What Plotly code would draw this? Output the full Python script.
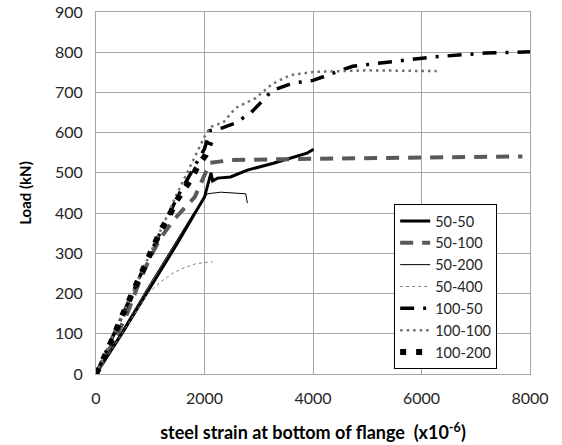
import plotly.graph_objects as go

# ---- data (strain x10^-6, load kN) ----
s50_50_x = [0, 500, 1000, 1500, 2000, 2120, 2150, 2240, 2480, 2790, 3270, 3890, 4010]
s50_50_y = [0, 105, 215, 325, 440, 500, 480, 487, 490, 507, 524, 549, 559]

s50_100_x = [0, 120, 360, 580, 790, 1000, 1190, 1430, 1740, 1820, 2100, 2500, 4000, 6000, 7860]
s50_100_y = [0, 30, 90, 152, 226, 291, 338, 383, 428, 440, 525, 532, 535, 537, 541]

s50_200_x = [0, 1000, 1800, 2050, 2300, 2600, 2760, 2790]
s50_200_y = [0, 225, 400, 448, 452, 450, 448, 425]

s50_400_x = [0, 500, 950, 1200, 1420, 1640, 1840, 2000, 2150]
s50_400_y = [0, 105, 200, 230, 251, 265, 274, 277, 279]

s100_50_x = [0, 500, 1000, 1500, 1800, 2000, 2100, 2330, 2570, 2860, 3250, 3620, 4000,
             4380, 4730, 5110, 5520, 6200, 6680, 7180, 8000]
s100_50_y = [0, 150, 300, 440, 510, 560, 605, 612, 624, 650, 705, 723, 730,
             748, 765, 771, 778, 788, 793, 798, 801]

s100_100_x = [0, 500, 1000, 1500, 2000, 2110, 2350, 2570, 2940, 3250, 3580, 4010, 5000, 6280]
s100_100_y = [0, 150, 300, 450, 590, 614, 626, 661, 686, 721, 743, 751, 755, 753]

s100_200_x = [0, 200, 500, 800, 1000, 1190, 1340, 1470, 1590, 1740, 1880, 2020, 2110]
s100_200_y = [0, 55, 150, 240, 295, 356, 390, 428, 452, 482, 518, 544, 577]

x_ticks = [0, 2000, 4000, 6000, 8000]
y_ticks = [0, 100, 200, 300, 400, 500, 600, 700, 800, 900]

FONT = "Lato, 'DejaVu Sans', sans-serif"

series = [
    ("50-50", s50_50_x, s50_50_y, dict(color="#000000", width=3, dash="solid")),
    ("50-100", s50_100_x, s50_100_y, dict(color="#595959", width=4, dash="13px,9px")),
    ("50-200", s50_200_x, s50_200_y, dict(color="#000000", width=1, dash="solid")),
    ("50-400", s50_400_x, s50_400_y, dict(color="#808080", width=1, dash="3px,3px")),
    ("100-50", s100_50_x, s100_50_y, dict(color="#000000", width=3.5, dash="14px,9px,3px,9px")),
    ("100-100", s100_100_x, s100_100_y, dict(color="#707070", width=2.5, dash="2.5px,4px")),
    ("100-200", s100_200_x, s100_200_y, dict(color="#000000", width=6, dash="6px,10px")),
]

fig = go.Figure()
for name, xs, ys, line in series:
    fig.add_trace(go.Scatter(x=xs, y=ys, mode="lines", name=name, line=line))

fig.update_layout(
    width=562, height=445,
    margin=dict(l=96, r=32, t=12, b=71, autoexpand=False),
    paper_bgcolor="white", plot_bgcolor="white",
    font=dict(family=FONT, size=16, color="#262626"),
    showlegend=True,
    legend=dict(
        x=0.687, y=0.0138, xanchor="left", yanchor="bottom",
        bgcolor="white", bordercolor="#000000", borderwidth=1,
        font=dict(family=FONT, size=14.5, color="#262626"),
        tracegroupgap=0, itemwidth=30,
    ),
    xaxis=dict(
        range=[0, 8000], tickvals=x_ticks, ticktext=[str(v) for v in x_ticks],
        showgrid=True, gridcolor="#a6a6a6", gridwidth=1,
        showline=True, linecolor="#a6a6a6", linewidth=1, mirror=True,
        ticks="", zeroline=False, automargin=False, ticklabelstandoff=10,
        tickfont=dict(family=FONT, size=16, color="#262626"),
        title=dict(text="steel strain at bottom of flange  (x10<sup>-6</sup>)",
                   font=dict(family=FONT, size=18, color="#000000", weight="bold"),
                   standoff=20),
    ),
    yaxis=dict(
        range=[0, 900], tickvals=y_ticks, ticktext=[str(v) for v in y_ticks],
        showgrid=True, gridcolor="#a6a6a6", gridwidth=1,
        showline=True, linecolor="#a6a6a6", linewidth=1, mirror=True,
        ticks="", zeroline=False, automargin=False, ticklabelstandoff=9,
        tickfont=dict(family=FONT, size=16, color="#262626"),
        title=dict(text="Load (kN)",
                   font=dict(family=FONT, size=15, color="#000000", weight="bold"),
                   standoff=19),
    ),
)

fig.write_html("out.html", config={"displayModeBar": False},
               post_script="document.body.style.margin='0';")
